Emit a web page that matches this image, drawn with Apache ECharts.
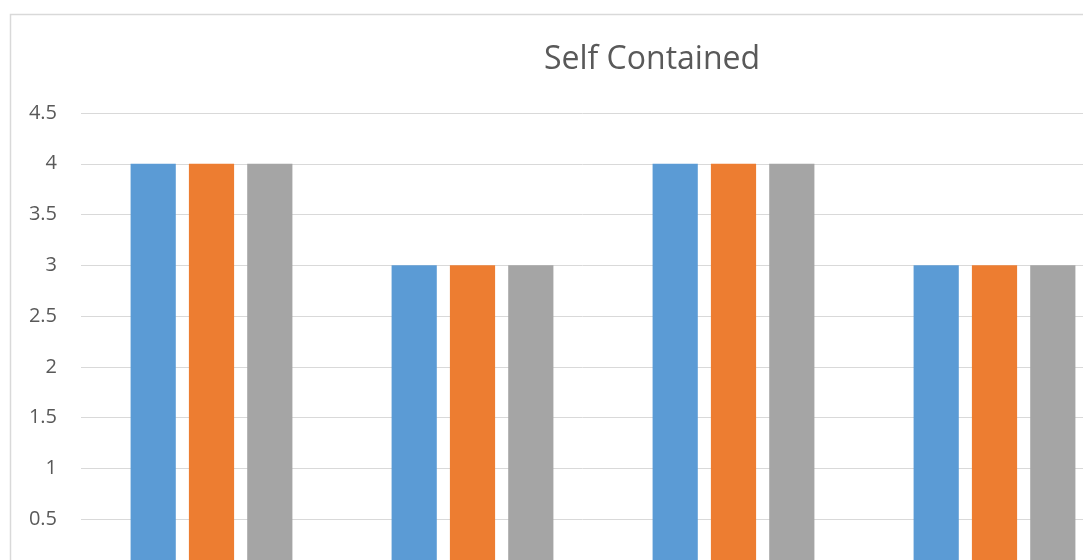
<!DOCTYPE html>
<html>
<head>
<meta charset="utf-8">
<script src="https://cdn.jsdelivr.net/npm/echarts@6/dist/echarts.min.js"></script>
<style>
  html, body { margin: 0; padding: 0; background: #fff; }
  #chart { width: 1083px; height: 560px; }
</style>
</head>
<body>
<div id="chart"></div>
<script>
// data
const categories = ["Item 1", "Item 2", "Item 3", "Item 4"];
const seriesNames = ["Series1", "Series2", "Series3"];
const series1 = [4, 3, 4, 3];
const series2 = [4, 3, 4, 3];
const series3 = [4, 3, 4, 3];
const colors = ["#5b9bd5", "#ed7d31", "#a5a5a5"];

const chart = echarts.init(document.getElementById("chart"));

chart.setOption({
  backgroundColor: "#fff",
  animation: false,
  title: {
    text: "Self Contained",
    left: 647,
    top: 39,
    textAlign: "center",
    textStyle: {
      fontFamily: "Open Sans",
      fontSize: 32,
      fontWeight: "normal",
      color: "#595959",
    },
  },
  graphic: [
    {
      type: "rect",
      silent: true,
      shape: { x: 10.5, y: 14.5, width: 2000, height: 2000 },
      style: { fill: "none", stroke: "#d9d9d9", lineWidth: 1.5 },
    },
  ],
  grid: {
    // plot area runs past the picture edge
    outerBoundsMode: "none",
    left: 81,
    top: 113,
    width: 1044,
    height: 457,
  },
  xAxis: {
    type: "category",
    data: categories,
    axisLine: { lineStyle: { color: "#d9d9d9" } },
    axisTick: { show: false },
    axisLabel: { show: false },
  },
  yAxis: {
    type: "value",
    min: 0,
    max: 4.5,
    interval: 0.5,
    axisLine: { show: false },
    axisTick: { show: false },
    axisLabel: {
      margin: 24,
      color: "#595959",
      fontFamily: "Open Sans",
      fontSize: 20,
    },
    splitLine: {
      lineStyle: { color: "#d9d9d9", width: 1 },
    },
  },
  series: [series1, series2, series3].map((d, i) => ({
    name: seriesNames[i],
    type: "bar",
    data: d,
    barGap: "29%",
    barCategoryGap: "38%",
    itemStyle: { color: colors[i] },
  })),
});
</script>
</body>
</html>
